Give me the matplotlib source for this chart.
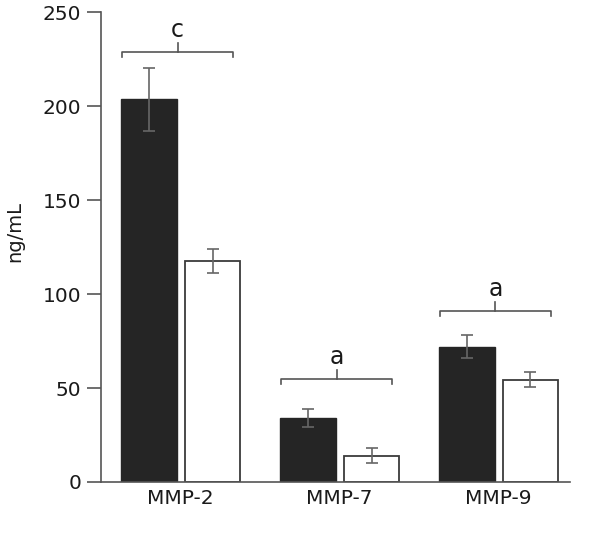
import numpy as np
import matplotlib.pyplot as plt

# values (ng/mL)
groups = ['MMP-2', 'MMP-7', 'MMP-9']
dark_vals = [203.5, 34.0, 72.0]
dark_err = [17.0, 4.7, 6.2]
light_vals = [117.5, 14.0, 54.5]
light_err = [6.5, 4.0, 4.0]
sig_letters = ['c', 'a', 'a']
bracket_y = [229, 55, 91]

x = np.arange(len(groups))
w = 0.35
off = 0.2

fig = plt.figure(figsize=(6.04, 5.34), dpi=100)
ax = fig.add_axes([0.167, 0.0974, 0.777, 0.88])

err_kw = dict(ecolor='#666666', elinewidth=1.2, capsize=4, capthick=1.2)
ax.bar(x - off, dark_vals, w, yerr=dark_err, color='#252525', edgecolor='#252525',
       error_kw=err_kw, zorder=2)
ax.bar(x + off, light_vals, w, yerr=light_err, color='white', edgecolor='#3a3a3a',
       linewidth=1.3, error_kw=err_kw, zorder=2)

# significance brackets
for xi, by, lab in zip(x, bracket_y, sig_letters):
    l, r = xi - 0.37, xi + 0.33
    ax.plot([l, l, r, r], [by - 2.7, by, by, by - 2.7], color='#555555', lw=1.2,
            clip_on=False)
    c = (l + r) / 2
    ax.plot([c, c], [by, by + 4.5], color='#555555', lw=1.2, clip_on=False)
    ax.text(c, by + 11.5, lab, ha='center', va='center', fontsize=17, color='#1a1a1a')

ax.set_xlim(-0.503, 2.45)
ax.set_ylim(0, 250)
ax.set_yticks([0, 50, 100, 150, 200, 250])
ax.set_xticks(x)
ax.set_xticklabels(groups)
ax.tick_params(axis='x', length=0, pad=5, labelsize=14.5, colors='#1a1a1a')
ax.tick_params(axis='y', length=10, width=1.2, direction='out', pad=4,
               labelsize=14.5, colors='#555555', labelcolor='#1a1a1a')
ax.set_ylabel('ng/mL', fontsize=14, color='#1a1a1a')
ax.yaxis.set_label_coords(-0.163, 0.532)

for s in ['top', 'right']:
    ax.spines[s].set_visible(False)
for s in ['left', 'bottom']:
    ax.spines[s].set_color('#555555')
    ax.spines[s].set_linewidth(1.2)

fig.savefig('out.png', dpi=100)
